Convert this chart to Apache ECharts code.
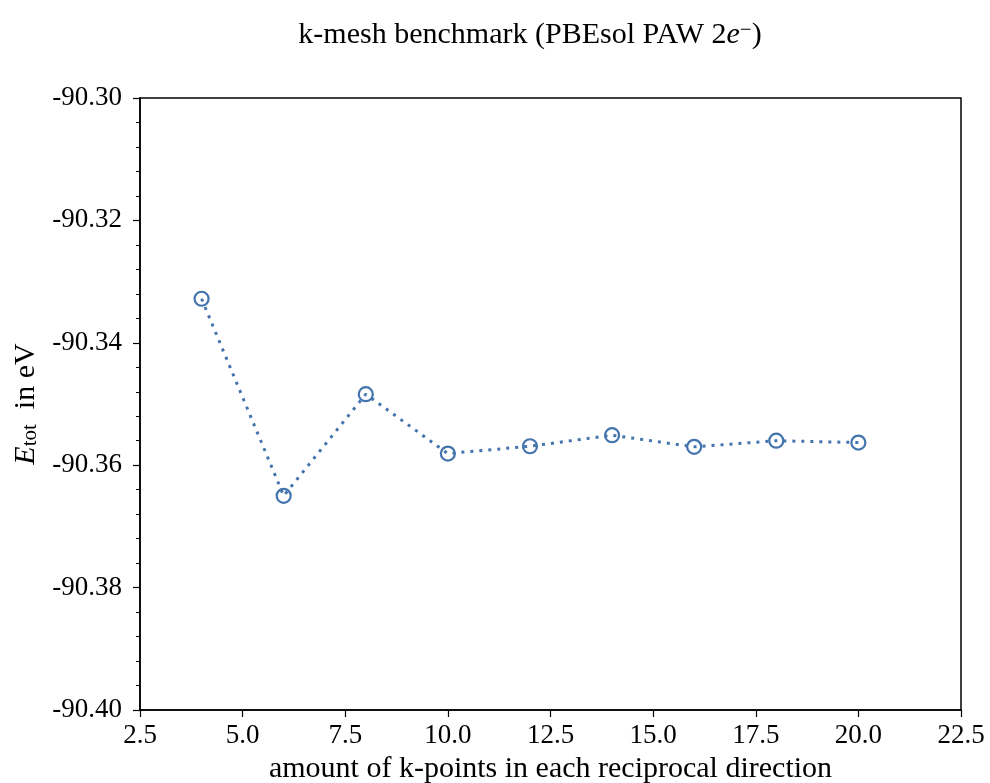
<!DOCTYPE html>
<html>
<head>
<meta charset="utf-8">
<script src="https://cdn.jsdelivr.net/npm/echarts@6/dist/echarts.min.js"></script>
<style>html,body{margin:0;padding:0;background:#fff}#c{width:990px;height:783px}</style>
</head>
<body>
<div id="c"></div>
<script>
const kPoints = [4, 6, 8, 10, 12, 14, 16, 18, 20];
const energies = [-90.3328, -90.3650, -90.3484, -90.3581, -90.3569, -90.3551, -90.3570, -90.3560, -90.3563];
const xTicks = {min: 2.5, max: 22.5, step: 2.5};
const yTicks = {min: -90.40, max: -90.30, step: 0.02};

const FONT = '"Liberation Serif", "DejaVu Serif", serif';
const COLOR = '#4474ad';
const chart = echarts.init(document.getElementById('c'));
chart.setOption({
  animation: false,
  backgroundColor: '#fff',
  title: {
    text: 'k-mesh benchmark (PBEsol PAW 2{i|e}{sup|−})',
    left: 525, top: 15, textAlign: 'center',
    textStyle: {
      fontFamily: FONT, fontSize: 30, fontWeight: 'normal', color: '#000',
      rich: {
        i: {fontFamily: FONT, fontSize: 30, fontStyle: 'italic', color: '#000'},
        sup: {fontFamily: FONT, fontSize: 21, color: '#000', verticalAlign: 'top', padding: [0,0,10,0]}
      }
    }
  },
  grid: {left: 140, right: 29, top: 98, bottom: 73, outerBoundsMode: 'none', containLabel: false,
         show: true, borderColor: '#000', borderWidth: 1.5, backgroundColor: 'transparent'},
  xAxis: {
    type: 'value', min: xTicks.min, max: xTicks.max, interval: xTicks.step,
    name: 'amount of k-points in each reciprocal direction',
    nameLocation: 'middle', nameGap: 37,
    nameTextStyle: {fontFamily: FONT, fontSize: 30, color: '#000'},
    axisLine: {show: true, onZero: false, lineStyle: {color: '#000', width: 1.5}},
    axisTick: {show: true, length: 7, lineStyle: {color: '#000', width: 1.2}},
    axisLabel: {fontFamily: FONT, fontSize: 27, color: '#000', margin: 12, formatter: v => v.toFixed(1)},
    splitLine: {show: false}
  },
  yAxis: {
    type: 'value', min: yTicks.min, max: yTicks.max, interval: yTicks.step,
    name: '{e|E}{sub|tot}  in eV',
    nameLocation: 'middle', nameGap: 97, nameRotate: 90,
    nameTextStyle: {
      fontFamily: FONT, fontSize: 30, color: '#000',
      rich: {
        e: {fontFamily: FONT, fontSize: 30, fontStyle: 'italic', color: '#000'},
        sub: {fontFamily: FONT, fontSize: 21, color: '#000', verticalAlign: 'bottom', padding: [9,0,0,0]}
      }
    },
    axisLine: {show: true, onZero: false, lineStyle: {color: '#000', width: 1.5}},
    axisTick: {show: true, length: 7, lineStyle: {color: '#000', width: 1.2}},
    minorTick: {show: true, splitNumber: 5, length: 4, lineStyle: {color: '#000', width: 1}},
    axisLabel: {fontFamily: FONT, fontSize: 27, color: '#000', margin: 18, formatter: v => v.toFixed(2)},
    splitLine: {show: false}
  },
  series: [{
    type: 'line',
    data: kPoints.map((k, i) => [k, energies[i]]),
    symbol: 'circle', symbolSize: 14,
    itemStyle: {color: 'rgba(255,255,255,0)', borderColor: COLOR, borderWidth: 2.2},
    lineStyle: {color: COLOR, width: 3, type: [3, 6], cap: 'butt'},
    z: 3
  }]
});
</script>
</body>
</html>
